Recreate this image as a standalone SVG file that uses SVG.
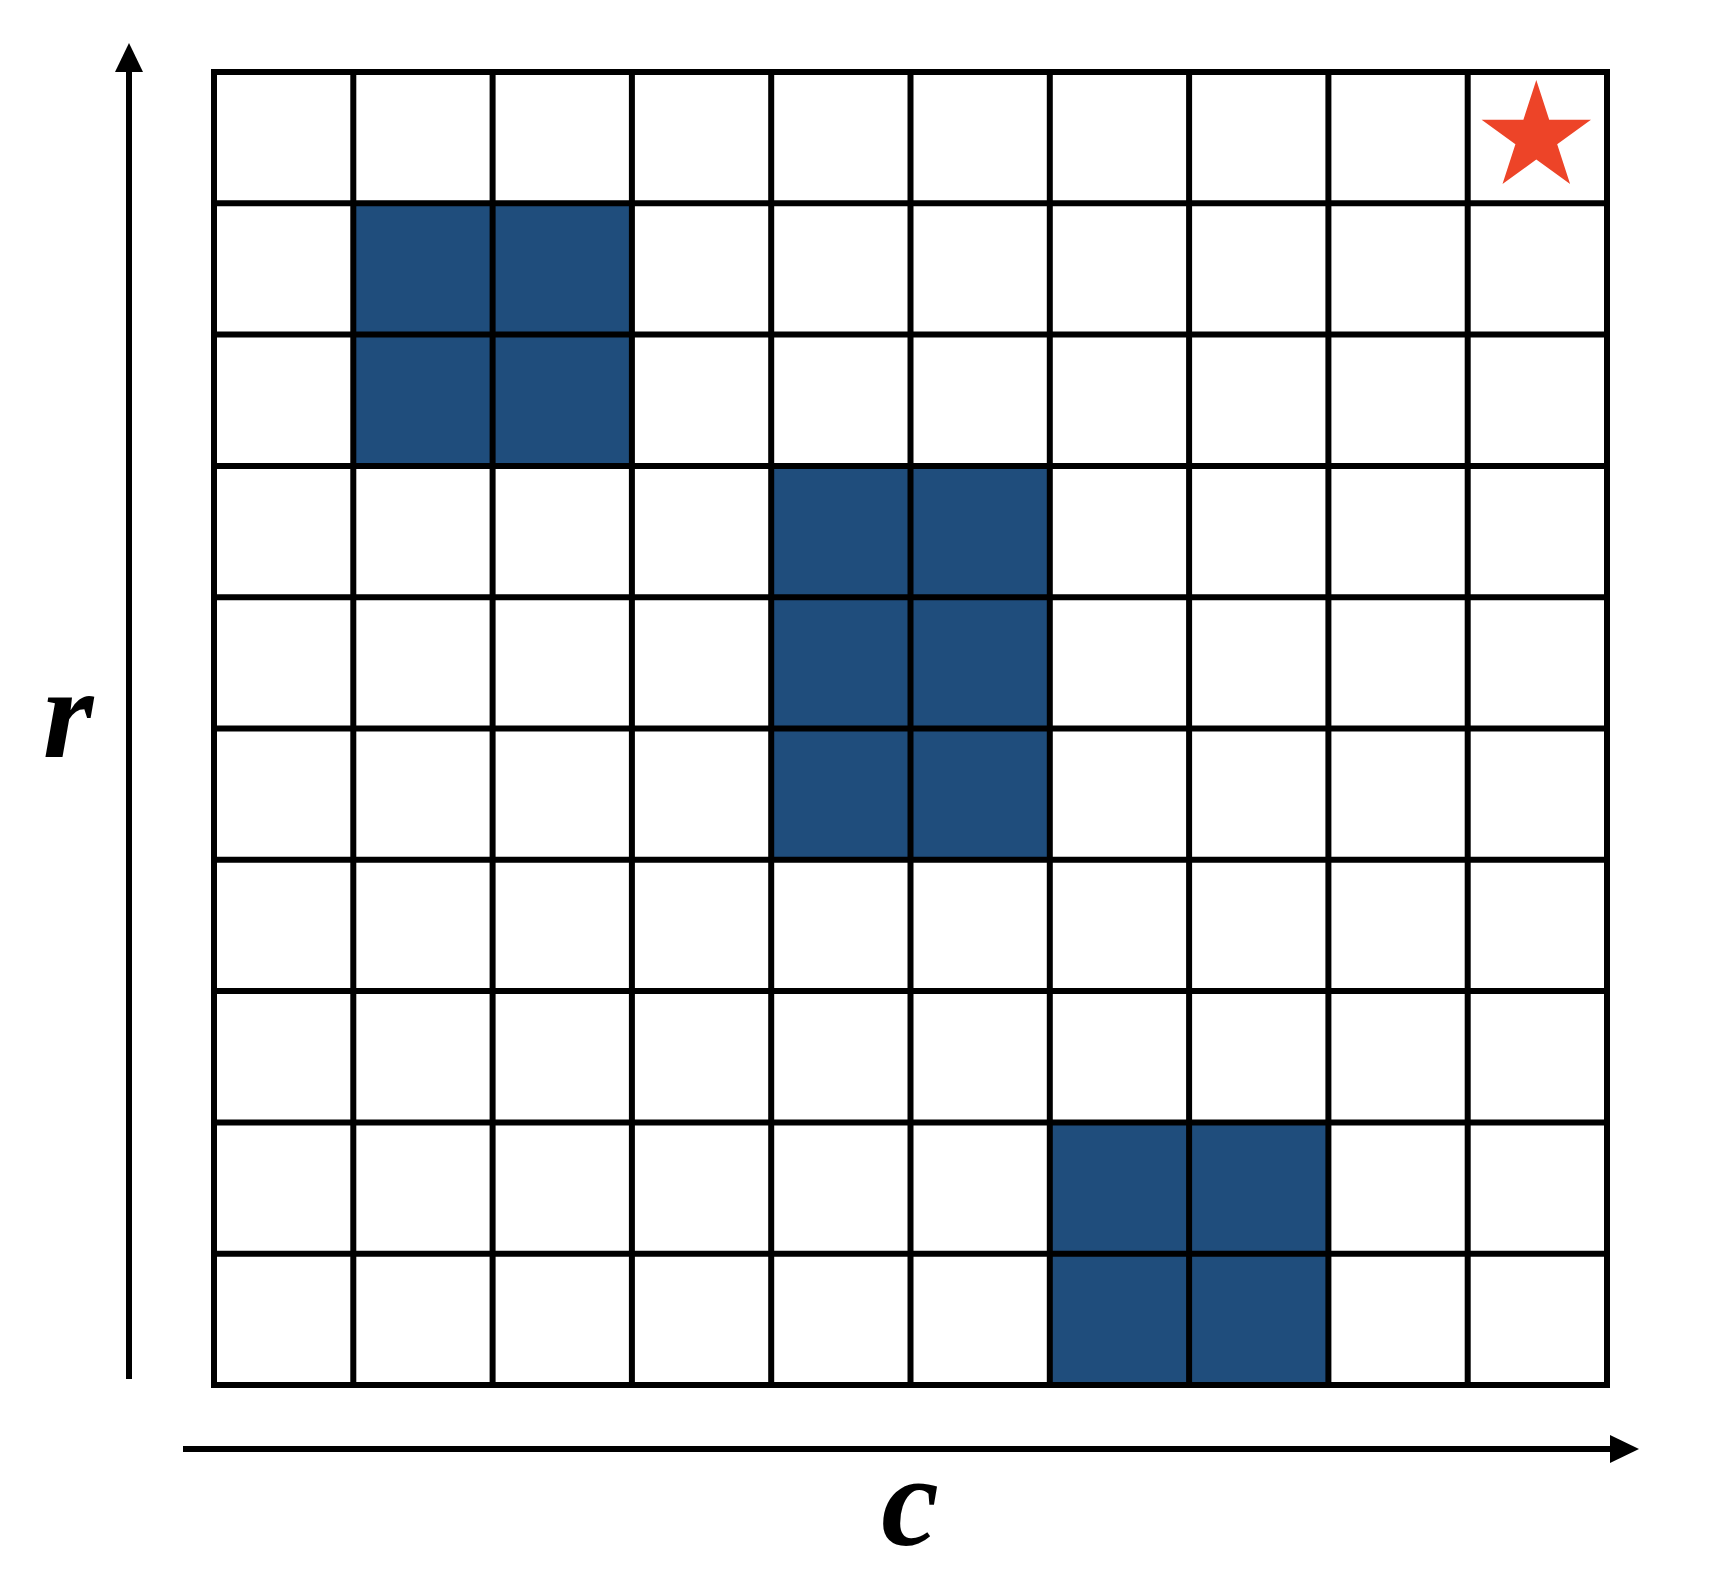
<svg xmlns="http://www.w3.org/2000/svg" width="1722" height="1576" viewBox="0 0 1722 1576">
<style>
.cell{fill:#1f4d7c}
.grid{stroke:#000;stroke-width:6;fill:none}
.axis{stroke:#000;stroke-width:6;fill:none}
.lbl{font-family:"Liberation Serif","Times New Roman",serif;font-style:italic;font-weight:bold;font-size:130px;fill:#000;text-anchor:middle}
</style>
<rect width="1722" height="1576" fill="#fff"/>
<g id="cells">
<rect class="cell" x="353.3" y="203.3" width="278.6" height="262.6"/>
<rect class="cell" x="771.2" y="465.9" width="278.6" height="393.9"/>
<rect class="cell" x="1049.8" y="1122.4" width="278.6" height="262.6"/>
</g>
<g id="grid" class="grid">
<path d="M353.3 72V1385M492.6 72V1385M631.9 72V1385M771.2 72V1385M910.5 72V1385M1049.8 72V1385M1189.1 72V1385M1328.4 72V1385M1467.7 72V1385"/>
<path d="M214 203.3H1607M214 334.6H1607M214 465.9H1607M214 597.2H1607M214 728.5H1607M214 859.8H1607M214 991.1H1607M214 1122.4H1607M214 1253.7H1607"/>
<rect x="214" y="72" width="1393" height="1313"/>
</g>
<g id="star">
<polygon fill="#ed4428" points="1536.3,80 1549.21,119.73 1590.98,119.73 1557.19,144.29 1570.1,184.02 1536.3,159.46 1502.5,184.02 1515.41,144.29 1481.62,119.73 1523.39,119.73"/>
</g>
<g id="connectors">
<line class="axis" x1="129" y1="1379" x2="129" y2="70"/>
<polygon points="129,43 143,72 115,72" fill="#000"/>
<line class="axis" x1="183" y1="1449" x2="1612" y2="1449"/>
<polygon points="1639,1449 1610,1435 1610,1463" fill="#000"/>
</g>
<g id="labels">
<text class="lbl" x="68" y="757">r</text>
<text class="lbl" x="910" y="1545">c</text>
</g>
</svg>
